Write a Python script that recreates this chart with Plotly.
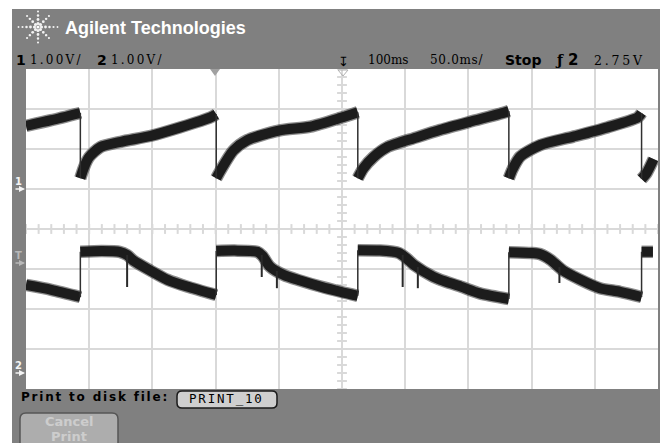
import plotly.graph_objects as go

# ---------------------------------------------------------------- data
# Time axis in ms (trigger at 0), voltages in V.  Each acquisition cycle is
# a separate segment (None) so the fast edges can be drawn as thin lines.
ch1_t = [-150, -130, -107, None,
         -107, -104, -100, -91, -75, -51, -28, -4, 0.5, None,
         0.5, 4, 14, 25, 50, 75, 99, 112.5, None,
         112.5, 117, 125, 136, 159, 178, 201, 225, 232, None,
         232, 235, 241, 257, 283, 310, 334, 337, None,
         337, 341, 346.5]
ch1_v = [1.58, 1.72, 1.90, None,
         0.27, 0.55, 0.80, 1.05, 1.18, 1.33, 1.54, 1.79, 1.87, None,
         0.27, 0.47, 0.96, 1.22, 1.46, 1.56, 1.78, 1.92, None,
         0.27, 0.52, 0.80, 1.05, 1.29, 1.48, 1.68, 1.88, 1.95, None,
         0.27, 0.50, 0.81, 1.10, 1.31, 1.54, 1.79, 1.90, None,
         0.25, 0.40, 0.75]

ch2_t = [-150, -130, -107, None,
         -107, -90, -76, -70, -65, -51.5, -38, -22.5, 0.5, None,
         0.5, 15, 33, 37, 43, 54, 67, 83, 99, 112.5, None,
         112.5, 130, 145, 151, 157, 172, 178, 194, 209, 232, None,
         232, 250, 257, 265, 275, 288.7, 304, 320, 337, None,
         337, 346]
ch2_v = [2.20, 2.08, 1.90, None,
         3.03, 3.05, 3.03, 2.95, 2.81, 2.56, 2.33, 2.16, 1.95, None,
         3.05, 3.06, 3.03, 2.93, 2.66, 2.45, 2.31, 2.16, 2.03, 1.93, None,
         3.07, 3.06, 3.00, 2.87, 2.70, 2.41, 2.33, 2.16, 1.99, 1.85, None,
         3.02, 3.00, 2.97, 2.83, 2.56, 2.33, 2.12, 2.03, 1.90, None,
         3.03, 3.03]

# narrow downward glitches on channel 2
glitch_t = [-70, 36.5, 48.5, 148, 160, 272]
glitch_top = [2.95, 2.95, 2.55, 2.95, 2.65, 2.65]
glitch_bot = [2.15, 2.40, 2.12, 2.15, 2.12, 2.25]

trig_level = 2.75          # V, channel 2
x_range = [-150, 350]      # 50 ms/div, 100 ms delay
ch1_range = [-5, 3]        # 1 V/div
ch2_range = [-0.4, 7.6]    # 1 V/div

# ---------------------------------------------------------------- layout
W, H = 660, 443
ML, MR, MT, MB = 26, 2, 69, 54
PW, PH = W - ML - MR, H - MT - MB
BG = '#808080'
GRID = '#d9d9d9'


def px(x):
    return (x - ML) / PW


def py(y):
    return (H - MB - y) / PH


def edges(t, v):
    """Vertical connectors between consecutive segments."""
    segs, cur = [], []
    for a, b in zip(t, v):
        if a is None:
            segs.append(cur)
            cur = []
        else:
            cur.append((a, b))
    segs.append(cur)
    ex, ey = [], []
    for s0, s1 in zip(segs[:-1], segs[1:]):
        ex += [s1[0][0], s1[0][0], None]
        ey += [s0[-1][1], s1[0][1], None]
    return ex, ey


fig = go.Figure()

# centre graticule ticks
hx = [x_range[0] + 10 * k for k in range(51)]
fig.add_trace(go.Scatter(x=hx, y=[-1] * len(hx), mode='markers', yaxis='y',
                         marker=dict(symbol='line-ns', size=7,
                                     line=dict(color=GRID, width=2)),
                         hoverinfo='skip', showlegend=False))
vy = [ch1_range[0] + 0.2 * k for k in range(41)]
fig.add_trace(go.Scatter(x=[100] * len(vy), y=vy, mode='markers', yaxis='y',
                         marker=dict(symbol='line-ew', size=7,
                                     line=dict(color=GRID, width=2)),
                         hoverinfo='skip', showlegend=False))


def add_channel(t, v, axis):
    fig.add_trace(go.Scatter(x=t, y=v, yaxis=axis, mode='lines',
                             line=dict(color='rgba(45,45,45,0.55)', width=12.5,
                                       shape='spline', smoothing=0.7),
                             hoverinfo='skip', showlegend=False))
    fig.add_trace(go.Scatter(x=t, y=v, yaxis=axis, mode='lines',
                             line=dict(color='#1c1c1c', width=10,
                                       shape='spline', smoothing=0.7),
                             hoverinfo='skip', showlegend=False))
    ex, ey = edges(t, v)
    fig.add_trace(go.Scatter(x=ex, y=ey, yaxis=axis, mode='lines',
                             line=dict(color='#303030', width=1.5),
                             hoverinfo='skip', showlegend=False))


add_channel(ch1_t, ch1_v, 'y')
add_channel(ch2_t, ch2_v, 'y2')

gx, gy = [], []
for t0, a, b in zip(glitch_t, glitch_top, glitch_bot):
    gx += [t0, t0, None]
    gy += [a, b, None]
fig.add_trace(go.Scatter(x=gx, y=gy, yaxis='y2', mode='lines',
                         line=dict(color='#2a2a2a', width=2),
                         hoverinfo='skip', showlegend=False))

# ---------------------------------------------------------------- decor
shapes = []
# white border strips
shapes.append(dict(type='rect', xref='paper', yref='paper', layer='above',
                   x0=px(0), x1=px(W), y0=py(0), y1=py(9),
                   fillcolor='white', line_width=0))
shapes.append(dict(type='rect', xref='paper', yref='paper', layer='above',
                   x0=px(0), x1=px(12), y0=py(0), y1=py(H),
                   fillcolor='white', line_width=0))


def rrect(x0, y0, x1, y1, r):
    X0, X1 = px(x0), px(x1)
    Y0, Y1 = py(y0), py(y1)
    rx, ry = r / PW, r / PH
    return (f'M {X0 + rx},{Y0} L {X1 - rx},{Y0} Q {X1},{Y0} {X1},{Y0 - ry} '
            f'L {X1},{Y1 + ry} Q {X1},{Y1} {X1 - rx},{Y1} '
            f'L {X0 + rx},{Y1} Q {X0},{Y1} {X0},{Y1 + ry} '
            f'L {X0},{Y0 - ry} Q {X0},{Y0} {X0 + rx},{Y0} Z')


# file-name box and cancel button
shapes.append(dict(type='path', xref='paper', yref='paper',
                   path=rrect(177, 391, 277, 408, 5),
                   fillcolor='#cfcfcf', line=dict(color='#1a1a1a', width=1.5)))
shapes.append(dict(type='path', xref='paper', yref='paper',
                   path=rrect(20, 413, 118, 452, 6),
                   fillcolor='#adadad', line=dict(color='#555555', width=1.5)))

# starburst logo
cx, cy = 38, 27
rays = [(1, 0, 21), (-1, 0, 21), (0, 1, 16), (0, -1, 16),
        (0.707, 0.707, 16), (-0.707, 0.707, 16),
        (0.707, -0.707, 16), (-0.707, -0.707, 16)]
for dx, dy, reach in rays:
    d = 3.5
    while d <= reach:
        r = 1.7 - 0.04 * d
        xx, yy = cx + dx * d, cy + dy * d
        shapes.append(dict(type='circle', xref='paper', yref='paper',
                           x0=px(xx - r), x1=px(xx + r),
                           y0=py(yy - r), y1=py(yy + r),
                           fillcolor='#f2f2f2', line_width=0))
        d += 4
shapes.append(dict(type='circle', xref='paper', yref='paper',
                   x0=px(cx - 1.6), x1=px(cx + 1.6),
                   y0=py(cy - 1.6), y1=py(cy + 1.6),
                   fillcolor='#ffffff', line_width=0))

# trigger position marker and delay marker on the top edge
shapes.append(dict(type='path', xref='paper', yref='paper',
                   path=f'M {px(210)},{py(69)} L {px(220)},{py(69)} '
                        f'L {px(215)},{py(76)} Z',
                   fillcolor='#a0a0a0', line_width=0))
shapes.append(dict(type='path', xref='paper', yref='paper',
                   path=f'M {px(338)},{py(70)} L {px(348)},{py(70)} '
                        f'L {px(343)},{py(76)} Z',
                   fillcolor='rgba(0,0,0,0)', line=dict(color='#b0b0b0', width=1)))

anns = []


def text(s, x, y, size, color='black', family='DejaVu Sans', xanchor='left',
         spacing=None):
    if spacing is not None:
        s = f'<span style="letter-spacing:{spacing}px">{s}</span>'
    anns.append(dict(text=s, x=px(x), y=py(y), xref='paper', yref='paper',
                     xanchor=xanchor, yanchor='middle', showarrow=False,
                     font=dict(size=size, color=color, family=family),
                     borderpad=0))


SCOPE = 'DejaVu Sans'
SERIF = 'DejaVu Serif'
text('<b>Agilent Technologies</b>', 64, 28, 18, 'white', 'Liberation Sans')
text('<b>1</b>', 15, 60, 14)
text('1.00V/', 29, 60, 12, family=SERIF, spacing=2.2)
text('<b>2</b>', 96, 60, 14)
text('1.00V/', 110, 60, 12, family=SERIF, spacing=2.2)
text('↧', 343, 62, 13, xanchor='center')
text('100ms', 367, 60, 12, family=SERIF)
text('50.0ms/', 429, 60, 12, family=SERIF, spacing=0.7)
text('<b>Stop</b>', 504, 60, 14, family=SCOPE)
text('<b>ƒ</b>', 559, 60, 14, xanchor='center', family=SERIF)
text('<b>2</b>', 567, 60, 15)
text('2.75V', 593, 60, 12.5, family=SERIF, spacing=2.8)

text('<b>Print to disk file:</b>', 20, 397, 12, family=SCOPE, spacing=1.8)
text('PRINT_10', 227, 398.5, 12.5, family='DejaVu Sans Mono',
     xanchor='center', spacing=1.8)
text('<b>Cancel</b>', 69, 421, 13, '#cdcdcd', SCOPE, 'center')
text('<b>Print</b>', 69, 436, 13, '#cdcdcd', SCOPE, 'center')

# channel ground markers and trigger level marker
for lbl, axis, val, col in [('1', 'y', 0, '#f4f4f4'), ('2', 'y2', 0, '#f4f4f4'),
                            ('T', 'y2', trig_level, '#b8b8b8')]:
    anns.append(dict(text='', x=px(25), xref='paper', y=val, yref=axis,
                     ax=-11, ay=0, showarrow=True, arrowhead=2,
                     arrowsize=0.8, arrowwidth=1.5, arrowcolor=col))
    anns.append(dict(text=f'<b>{lbl}</b>', x=px(14), xref='paper', y=val,
                     yref=axis, xanchor='left', yanchor='bottom', yshift=1,
                     showarrow=False, borderpad=0,
                     font=dict(size=10, color=col, family=SCOPE)))

fig.update_layout(
    width=W, height=H,
    margin=dict(l=ML, r=MR, t=MT, b=MB, pad=0),
    paper_bgcolor=BG, plot_bgcolor='white',
    showlegend=False,
    xaxis=dict(range=x_range, tick0=0, dtick=50, showgrid=True,
               gridcolor=GRID, gridwidth=2, zeroline=False,
               showticklabels=False, ticks='', fixedrange=True),
    yaxis=dict(range=ch1_range, dtick=1, showgrid=True, gridcolor=GRID,
               gridwidth=2, zeroline=False, showticklabels=False, ticks=''),
    yaxis2=dict(range=ch2_range, overlaying='y', showgrid=False,
                zeroline=False, showticklabels=False, ticks=''),
    shapes=shapes, annotations=anns,
)

fig.write_html('out.html')
